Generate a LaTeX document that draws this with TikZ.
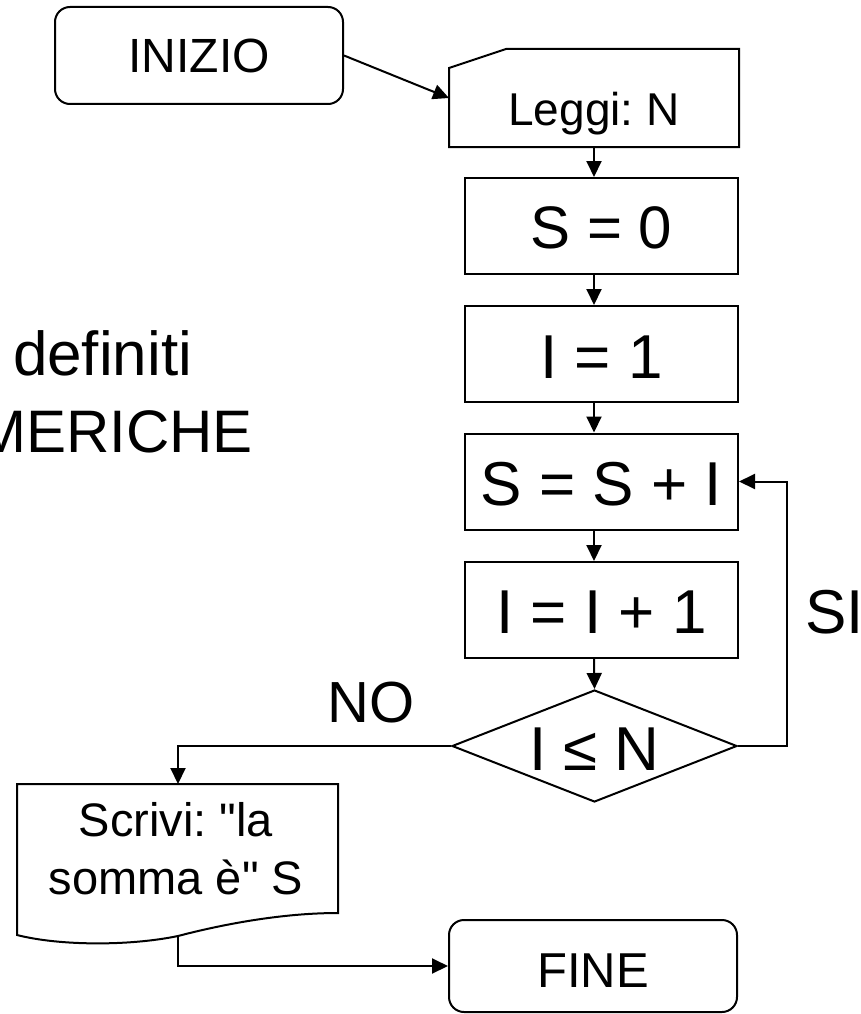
\documentclass[tikz,border=0pt]{standalone}
\usepackage{fontspec}
\setmainfont{Liberation Sans}
\font\qfont="Liberation Sans" at 47pt
\usetikzlibrary{arrows.meta,shapes.geometric,calc}
\frenchspacing
\begin{document}
\begin{tikzpicture}[x=1pt,y=-1pt,
  line width=2pt,
  arr/.style={-{Triangle[length=16pt,width=15pt]}, line width=2pt},
  proc/.style={draw, rectangle, minimum width=273pt, minimum height=96pt, inner sep=0pt, text depth=0pt, font=\fontsize{62}{74}\selectfont},
  term/.style={draw, rectangle, rounded corners=15pt, inner sep=0pt, text depth=0pt},
  lbl/.style={inner sep=0pt, font=\fontsize{62}{74}\selectfont}]
\useasboundingbox (0,0) rectangle (861,1014);
\clip (0,0) rectangle (861,1014);

% left text (partially cut by the picture's edge, as in the reference)
\node[lbl, anchor=base west] (t1) at (12,375) {definiti};
\node[inner sep=0pt, anchor=base east, font=\fontsize{60}{72}\selectfont] (t2) at (254,452) {MERICHE};

% start
\node[term, minimum width=288pt, minimum height=97pt, text height=35pt, font=\fontsize{48}{58}\selectfont] (inizio) at (199,55.5) {INIZIO};

% input
\node[minimum width=288pt, minimum height=96pt, inner sep=0pt, text height=56pt, text depth=0pt, font=\fontsize{46}{55}\selectfont] (leggi) at (594,98) {Leggi: N};
\draw (leggi.south west) -- ($(leggi.north west)+(0,19)$) -- ($(leggi.north west)+(57,0)$) -- (leggi.north east) -- (leggi.south east) -- cycle;

% process boxes
\node[proc, text height=44pt, font=\fontsize{60}{72}\selectfont] (s0) at (601.5,226) {S = 0};
\node[proc, text height=48pt] (i1) at (601.5,354) {I = 1};
\node[proc, text height=47pt] (ssi) at (601.5,481.5) {S = S + I};
\node[proc, text height=46pt] (ii1) at (601.5,610) {I = I + 1};

% decision
\node[draw, diamond, aspect=2.54, minimum width=285pt, minimum height=112pt, inner sep=0pt, text height=48pt, text depth=0pt, font=\fontsize{62}{74}\selectfont] (dec) at (594.5,746) {I ≤ N};

% output document
\coordinate (doctop) at (178,784);
\coordinate (docb) at (178,936);
\draw (17,784) -- (338,784) -- (338,913) .. controls (280,913) and (220,925) .. (docb) .. controls (130,946) and (60,946) .. (17,935) -- cycle;
\node[inner sep=0pt, align=center, font=\fontsize{47}{58}\selectfont] (doc) at (176,849) {Scrivi: {\qfont"}la\\somma è{\qfont"} S};

% end
\node[term, minimum width=288pt, minimum height=92pt, text height=42pt, font=\fontsize{49}{59}\selectfont] (fine) at (593,966) {FINE};

% labels
\node[lbl, anchor=base west] (si) at (804,633) {SI};
\node[inner sep=0pt, anchor=base, font=\fontsize{58}{70}\selectfont] (no) at (371,722) {NO};

% connectors
\coordinate (ax) at (594,0);
\draw[arr] (inizio.east) -- (leggi.west);
\draw[arr] (leggi.south -| ax) -- (s0.north -| ax);
\draw[arr] (s0.south -| ax) -- (i1.north -| ax);
\draw[arr] (i1.south -| ax) -- (ssi.north -| ax);
\draw[arr] (ssi.south -| ax) -- (ii1.north -| ax);
\draw[arr] (ii1.south -| ax) -- (dec.north);
\draw[arr] (dec.east) -- ++(49,0) |- (ssi.east);
\draw[arr] (dec.west) -| (doctop);
\draw[arr] (docb) |- (fine.west);
\end{tikzpicture}
\end{document}
